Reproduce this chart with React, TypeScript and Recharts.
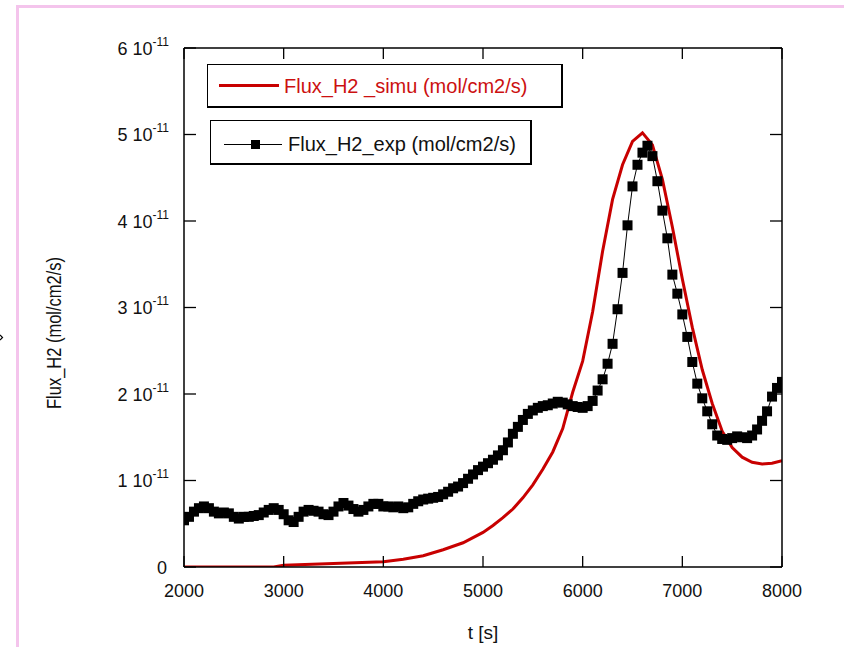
import React from 'react';
import { LineChart, Line, XAxis, YAxis } from 'recharts';

const FONT = "'Liberation Sans', Arial, sans-serif";

const expTime = [
  2000, 2050, 2100, 2150, 2200, 2250, 2300, 2350, 2400, 2450,
  2500, 2550, 2600, 2650, 2700, 2750, 2800, 2850, 2900, 2950,
  3000, 3050, 3100, 3150, 3200, 3250, 3300, 3350, 3400, 3450,
  3500, 3550, 3600, 3650, 3700, 3750, 3800, 3850, 3900, 3950,
  4000, 4050, 4100, 4150, 4200, 4250, 4300, 4350, 4400, 4450,
  4500, 4550, 4600, 4650, 4700, 4750, 4800, 4850, 4900, 4950,
  5000, 5050, 5100, 5150, 5200, 5250, 5300, 5350, 5400, 5450,
  5500, 5550, 5600, 5650, 5700, 5750, 5800, 5850, 5900, 5950,
  6000, 6050, 6100, 6150, 6200, 6250, 6300, 6350, 6400, 6450,
  6500, 6550, 6600, 6650, 6700, 6750, 6800, 6850, 6900, 6950,
  7000, 7050, 7100, 7150, 7200, 7250, 7300, 7350, 7400, 7450,
  7500, 7550, 7600, 7650, 7700, 7750, 7800, 7850, 7900, 7950,
  8000,
];

// Flux_H2_exp in units of 10^-11 mol/cm2/s
const expFlux = [
  0.54, 0.58, 0.64, 0.68, 0.70, 0.68, 0.64, 0.62, 0.63, 0.62,
  0.58, 0.56, 0.58, 0.58, 0.59, 0.60, 0.63, 0.66, 0.68, 0.66,
  0.61, 0.54, 0.52, 0.58, 0.64, 0.66, 0.65, 0.64, 0.61, 0.60,
  0.64, 0.70, 0.74, 0.71, 0.67, 0.64, 0.66, 0.70, 0.73, 0.73,
  0.70, 0.70, 0.69, 0.70, 0.68, 0.69, 0.73, 0.76, 0.78, 0.79,
  0.80, 0.81, 0.84, 0.87, 0.91, 0.93, 0.97, 1.02, 1.07, 1.12,
  1.16, 1.20, 1.24, 1.29, 1.35, 1.44, 1.54, 1.62, 1.70, 1.77,
  1.81, 1.84, 1.86, 1.87, 1.89, 1.91, 1.90, 1.88, 1.86, 1.85,
  1.84, 1.86, 1.92, 2.04, 2.17, 2.35, 2.58, 2.98, 3.40, 3.95,
  4.40, 4.65, 4.79, 4.87, 4.75, 4.46, 4.12, 3.80, 3.38, 3.16,
  2.92, 2.66, 2.37, 2.12, 1.95, 1.80, 1.65, 1.52, 1.48, 1.47,
  1.49, 1.51, 1.50, 1.49, 1.52, 1.59, 1.69, 1.80, 1.97, 2.07,
  2.14,
];

const simuTime = [
  2000, 2500, 2900, 3000, 3500, 4000, 4200, 4400, 4500, 4600,
  4700, 4800, 4900, 5000, 5100, 5200, 5300, 5400, 5500, 5600,
  5700, 5800, 5900, 6000, 6100, 6200, 6300, 6400, 6500, 6600,
  6700, 6800, 6900, 7000, 7100, 7200, 7300, 7400, 7500, 7600,
  7700, 7800, 7900, 8000,
];

// Flux_H2_simu in units of 10^-11 mol/cm2/s
const simuFlux = [
  0, 0, 0, 0.02, 0.04, 0.06, 0.09, 0.13, 0.165, 0.20,
  0.24, 0.28, 0.34, 0.40, 0.48, 0.57, 0.67, 0.80, 0.95, 1.13,
  1.33, 1.60, 2.02, 2.38, 2.95, 3.65, 4.25, 4.65, 4.92, 5.02,
  4.88, 4.48, 3.93, 3.33, 2.77, 2.28, 1.89, 1.57, 1.38, 1.27,
  1.21, 1.19, 1.20, 1.23,
];

const xTicks = [2000, 3000, 4000, 5000, 6000, 7000, 8000];
const yTicks = [0, 1, 2, 3, 4, 5, 6];
const yTickMantissa = ['0', '1 10', '2 10', '3 10', '4 10', '5 10', '6 10'];
const yTickExponent = '-11';

const expLabel = 'Flux_H2_exp (mol/cm2/s)';
const simuLabel = 'Flux_H2 _simu (mol/cm2/s)';
const xTitle = 't [s]';
const yTitle = 'Flux_H2 (mol/cm2/s)';

const expData = expTime.map((t, i) => ({ t, v: expFlux[i] }));
const simuData = simuTime.map((t, i) => ({ t, v: simuFlux[i] }));

const RED = '#c80000';

const BottomTick = (props: any) => {
  const { x, y, payload } = props;
  return (
    <g>
      <line x1={x} x2={x} y1={y} y2={y - 11} stroke="#000" strokeWidth={1.3} />
      <text x={x} y={y + 30} textAnchor="middle" fontSize={18} fontFamily={FONT} fill="#111">
        {payload.value}
      </text>
    </g>
  );
};

const TopTick = (props: any) => {
  const { x, y } = props;
  return <line x1={x} x2={x} y1={y} y2={y + 11} stroke="#000" strokeWidth={1.3} />;
};

const LeftTick = (props: any) => {
  const { x, y, payload, index } = props;
  const i = yTicks.indexOf(payload.value);
  const m = yTickMantissa[i >= 0 ? i : index];
  return (
    <g>
      <line x1={x} x2={x + 12} y1={y} y2={y} stroke="#000" strokeWidth={1.3} />
      {payload.value === 0 ? (
        <text x={x - 17} y={y + 7} textAnchor="end" fontSize={18} fontFamily={FONT} fill="#111">
          {m}
        </text>
      ) : (
        <text x={x - 15} y={y + 6.5} textAnchor="end" fontSize={18} fontFamily={FONT} fill="#111">
          <tspan>{m}</tspan>
          <tspan dy={-9} fontSize={12}>{yTickExponent}</tspan>
        </text>
      )}
    </g>
  );
};

const RightTick = (props: any) => {
  const { x, y } = props;
  return <line x1={x} x2={x - 12} y1={y} y2={y} stroke="#000" strokeWidth={1.3} />;
};

const SquareDot = (props: any) => {
  const { cx, cy, index } = props;
  if (cx == null || cy == null) return <g key={`d${index}`} />;
  return <rect key={`d${index}`} x={cx - 5} y={cy - 5} width={10} height={10} fill="#000" />;
};

const axisLineStyle = { stroke: '#000', strokeWidth: 1.5 };

export default function App() {
  return (
    <div style={{ position: 'absolute', left: 0, top: 0, width: 844, height: 647, background: '#fff', overflow: 'hidden' }}>
      <div
        style={{
          position: 'absolute',
          left: 16,
          top: 5,
          width: 844,
          height: 660,
          borderTop: '3px solid #f4c4ec',
          borderLeft: '3px solid #f4c4ec',
          boxSizing: 'border-box',
        }}
      />
      <div style={{ position: 'absolute', left: 0, top: 0 }}>
        <LineChart
          width={844}
          height={647}
          margin={{ top: 38, right: 52, bottom: 50, left: 124 }}
        >
          <XAxis
            xAxisId="bottom"
            orientation="bottom"
            type="number"
            dataKey="t"
            domain={[2000, 8000]}
            ticks={xTicks}
            interval={0}
            allowDataOverflow
            height={30}
            tickSize={0}
            tickMargin={0}
            tickLine={false}
            axisLine={axisLineStyle}
            tick={<BottomTick />}
          />
          <XAxis
            xAxisId="top"
            orientation="top"
            type="number"
            dataKey="t"
            domain={[2000, 8000]}
            ticks={xTicks}
            interval={0}
            allowDataOverflow
            height={10}
            tickSize={0}
            tickMargin={0}
            tickLine={false}
            axisLine={axisLineStyle}
            tick={<TopTick />}
          />
          <YAxis
            yAxisId="left"
            orientation="left"
            type="number"
            domain={[0, 6]}
            ticks={yTicks}
            interval={0}
            allowDataOverflow
            width={60}
            tickSize={0}
            tickMargin={0}
            tickLine={false}
            axisLine={axisLineStyle}
            tick={<LeftTick />}
          />
          <YAxis
            yAxisId="right"
            orientation="right"
            type="number"
            domain={[0, 6]}
            ticks={yTicks}
            interval={0}
            allowDataOverflow
            width={10}
            tickSize={0}
            tickMargin={0}
            tickLine={false}
            axisLine={axisLineStyle}
            tick={<RightTick />}
          />
          <Line
            xAxisId="bottom"
            yAxisId="left"
            data={expData}
            dataKey="v"
            type="linear"
            stroke="#000"
            strokeWidth={1}
            dot={SquareDot}
            isAnimationActive={false}
          />
          <Line
            xAxisId="bottom"
            yAxisId="left"
            data={simuData}
            dataKey="v"
            type="linear"
            stroke={RED}
            strokeWidth={3}
            dot={false}
            isAnimationActive={false}
          />
        </LineChart>
      </div>
      <svg
        width={844}
        height={647}
        style={{ position: 'absolute', left: 0, top: 0, pointerEvents: 'none' }}
      >
        <text x={483} y={639} textAnchor="middle" fontSize={19} fontFamily={FONT} fill="#111">
          {xTitle}
        </text>
        <text
          transform="translate(61, 409) rotate(-90)"
          textAnchor="start"
          fontSize={20}
          fontFamily={FONT}
          fill="#111"
          textLength={152}
          lengthAdjust="spacingAndGlyphs"
        >
          {yTitle}
        </text>
        <path d="M0 335 L2.5 337.5 L0 340" stroke="#000" strokeWidth={1.2} fill="none" />
      </svg>
      <div
        style={{
          position: 'absolute',
          left: 207,
          top: 64,
          width: 356,
          height: 44,
          boxSizing: 'border-box',
          border: '1px solid #000',
          borderRight: '2px solid #000',
          borderBottom: '2px solid #000',
          background: '#fff',
        }}
      >
        <div style={{ position: 'absolute', left: 11, top: 19, width: 60, height: 3, background: RED }} />
        <div
          style={{
            position: 'absolute',
            left: 76,
            top: 9,
            fontFamily: FONT,
            fontSize: 20,
            lineHeight: '24px',
            color: '#cc1010',
            whiteSpace: 'nowrap',
          }}
        >
          {simuLabel}
        </div>
      </div>
      <div
        style={{
          position: 'absolute',
          left: 210,
          top: 120,
          width: 322,
          height: 45,
          boxSizing: 'border-box',
          border: '1px solid #000',
          borderRight: '2px solid #000',
          borderBottom: '2px solid #000',
          background: '#fff',
        }}
      >
        <div style={{ position: 'absolute', left: 13, top: 23, width: 58, height: 1, background: '#000' }} />
        <div style={{ position: 'absolute', left: 40, top: 19, width: 9, height: 9, background: '#000' }} />
        <div
          style={{
            position: 'absolute',
            left: 77,
            top: 11,
            fontFamily: FONT,
            fontSize: 20,
            lineHeight: '24px',
            color: '#111',
            whiteSpace: 'nowrap',
          }}
        >
          {expLabel}
        </div>
      </div>
    </div>
  );
}
